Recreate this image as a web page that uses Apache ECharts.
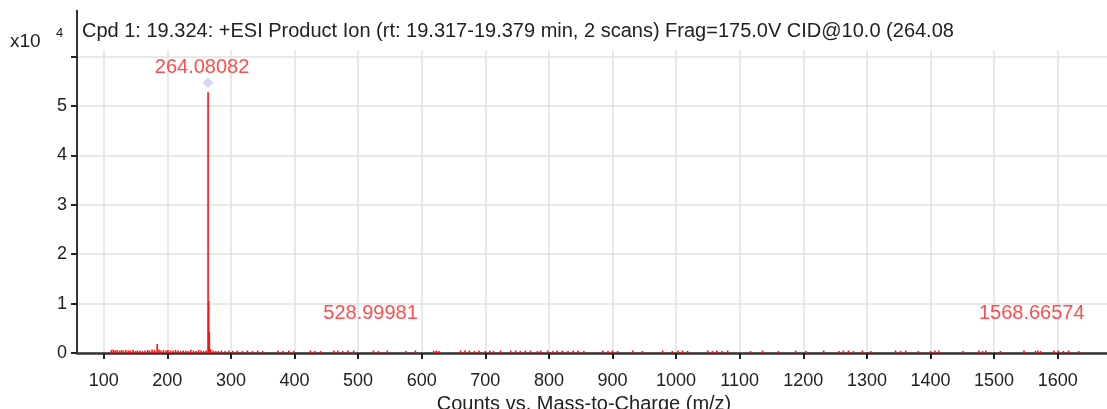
<!DOCTYPE html>
<html><head><meta charset="utf-8">
<script src="https://cdn.jsdelivr.net/npm/echarts@6/dist/echarts.min.js"></script>
<style>html,body{margin:0;padding:0;background:#fff}#c{width:1107px;height:409px}</style>
</head><body><div id="c"></div>
<script>
// m/z ticks
const xTicks = [100,200,300,400,500,600,700,800,900,1000,1100,1200,1300,1400,1500,1600];
const yTicks = [0,1,2,3,4,5,6];
const yTickLabels = ['0','1','2','3','4','5',''];
// main peaks (m/z, intensity x10^4)
const peakMz = [264.08082, 265.08, 266.08, 184.07];
const peakInt = [5.28, 1.05, 0.42, 0.18];
// low-level noise sticks (m/z, intensity x10^4)
const noiseMz = [112,115,118,121,125,128,131,135,139,142,146,150,153,157,161,165,169,172,176,180,187,190,194,198,201,205,209,213,217,221,225,229,233,237,241,245,249,253,257,261,268,272,276,280,285,291,297,303,310,318,326,334,342,350,374,382,391,399,425,432,441,462,468,476,484,493,524,532,546,575,590,619,623,627,661,668,675,683,690,700,707,713,724,740,748,755,763,771,782,787,798,806,813,821,830,838,846,855,885,893,900,908,932,947,979,994,1003,1010,1018,1050,1057,1064,1072,1081,1117,1136,1161,1188,1204,1232,1256,1263,1271,1279,1293,1306,1345,1353,1361,1381,1400,1407,1413,1451,1476,1482,1487,1510,1547,1565,1568.66574,1573,1594,1601,1609,1617,1633,1652];
const noiseInt = [0.06,0.07,0.05,0.06,0.05,0.06,0.05,0.06,0.05,0.05,0.06,0.04,0.05,0.05,0.04,0.05,0.06,0.05,0.07,0.06,0.07,0.05,0.06,0.05,0.06,0.05,0.05,0.06,0.05,0.04,0.05,0.05,0.04,0.06,0.05,0.04,0.06,0.05,0.04,0.05,0.08,0.05,0.04,0.04,0.05,0.04,0.05,0.04,0.05,0.04,0.05,0.04,0.05,0.04,0.05,0.04,0.05,0.04,0.05,0.04,0.04,0.05,0.05,0.04,0.05,0.05,0.05,0.04,0.05,0.04,0.05,0.04,0.05,0.04,0.05,0.05,0.05,0.04,0.05,0.04,0.05,0.04,0.05,0.05,0.05,0.04,0.05,0.05,0.04,0.05,0.05,0.04,0.05,0.05,0.04,0.05,0.05,0.04,0.05,0.04,0.05,0.04,0.05,0.04,0.05,0.04,0.05,0.05,0.04,0.05,0.04,0.05,0.04,0.05,0.04,0.05,0.04,0.05,0.04,0.05,0.04,0.05,0.05,0.04,0.05,0.04,0.05,0.04,0.05,0.04,0.04,0.05,0.05,0.04,0.05,0.04,0.05,0.04,0.05,0.04,0.05,0.04,0.05,0.05,0.04,0.05,0.04];
// annotated peaks
const labelMz = [264.08082, 528.99981, 1568.66574];
const labelText = ['264.08082','528.99981','1568.66574'];
const labelY = [5.77, 0.81, 0.81];
const markerMz = [264.08082];
const markerY = [5.47];
const titleText = 'Cpd 1: 19.324: +ESI Product Ion (rt: 19.317-19.379 min, 2 scans) Frag=175.0V CID@10.0 (264.08';
const xName = 'Counts vs. Mass-to-Charge (m/z)';

const sticks = [];
noiseMz.forEach((m,i)=>sticks.push([m, noiseInt[i]]));
peakMz.forEach((m,i)=>sticks.push([m, peakInt[i]]));

const FONT = '"Liberation Sans", Arial, sans-serif';
const chart = echarts.init(document.getElementById('c'), null, {renderer:'canvas'});
chart.setOption({
  animation:false,
  backgroundColor:'#fff',
  grid:{left:77, right:0, top:50, bottom:56, containLabel:false, outerBoundsMode:'none'},
  xAxis:{
    type:'value', min:58, max:1677.5,
    name:xName, nameLocation:'middle', nameGap:39,
    nameTextStyle:{fontFamily:FONT, fontSize:20, color:'#222', padding:[0,16,0,0]},
    axisLine:{show:true, onZero:false, lineStyle:{color:'#333', width:2.5}},
    axisTick:{show:true, customValues:xTicks, length:6, lineStyle:{color:'#222', width:2}},
    axisLabel:{customValues:xTicks, fontFamily:FONT, fontSize:18, color:'#222', margin:19,
      formatter:(v)=>String(v)},
    splitLine:{show:true, lineStyle:{color:'#e2e2e2', width:1.5}}
  },
  yAxis:{
    type:'value', min:0, max:6.134, interval:1,
    axisLine:{show:true, lineStyle:{color:'#333', width:2}},
    axisTick:{show:true, customValues:yTicks, length:6, lineStyle:{color:'#222', width:2}},
    axisLabel:{customValues:yTicks, fontFamily:FONT, fontSize:18, color:'#222', margin:10,
      formatter:(v)=>{const i=yTicks.indexOf(Math.round(v)); return i>=0?yTickLabels[i]:'';}},
    splitLine:{show:true, lineStyle:{color:'#e2e2e2', width:1.5}}
  },
  graphic:[
    {type:'line', shape:{x1:77, y1:10, x2:77, y2:50}, style:{stroke:'#333', lineWidth:2}, z:10},
    {type:'text', x:82, y:31, style:{text:titleText, font:'20px '+FONT, fill:'#222', textVerticalAlign:'middle'}},
    {type:'text', x:10, y:42, style:{text:'x10', font:'19px '+FONT, fill:'#222', textVerticalAlign:'middle'}},
    {type:'text', x:56, y:33, style:{text:'4', font:'13px '+FONT, fill:'#222', textVerticalAlign:'middle'}}
  ],
  series:[
    {
      type:'custom', data:sticks, clip:true, z:3,
      renderItem:(params, api)=>{
        const p0 = api.coord([api.value(0), 0]);
        const p1 = api.coord([api.value(0), api.value(1)]);
        return {type:'line', shape:{x1:p0[0], y1:p0[1], x2:p1[0], y2:p1[1]},
          style:{stroke:'#ff1010', lineWidth:1.6}};
      }
    },
    {
      type:'scatter', data:markerMz.map((m,i)=>[m, markerY[i]]),
      symbol:'diamond', symbolSize:11, itemStyle:{color:'#c9cdf7'}, z:4
    },
    {
      type:'scatter', data:labelMz.map((m,i)=>({value:[m, labelY[i]], name:labelText[i]})),
      symbolSize:0, z:5,
      label:{show:true, position:'inside', offset:[-6,0], formatter:(p)=>p.name,
        fontFamily:FONT, fontSize:20, color:'#ff2020'}
    }
  ]
});
</script></body></html>
